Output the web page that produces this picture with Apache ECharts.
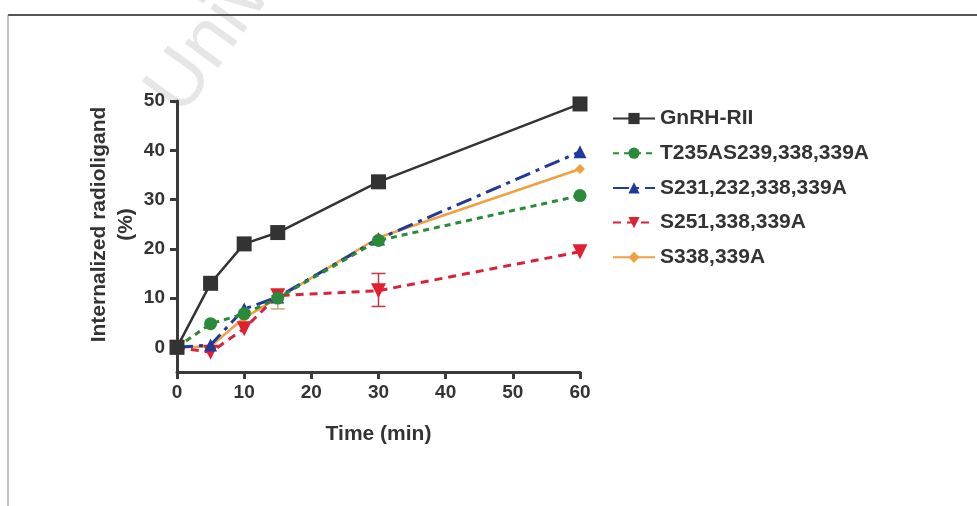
<!DOCTYPE html>
<html>
<head>
<meta charset="utf-8">
<script src="https://cdn.jsdelivr.net/npm/echarts@6/dist/echarts.min.js"></script>
<style>
  html, body { margin: 0; padding: 0; background: #fff; }
  #chart { width: 977px; height: 506px; }
</style>
</head>
<body>
<div id="chart"></div>
<script>
const times = [0, 5, 10, 15, 30, 60];
const names = ['GnRH-RII', 'T235AS239,338,339A', 'S231,232,338,339A', 'S251,338,339A', 'S338,339A'];

const gnrh = [0, 13, 21, 23.3, 33.6, 49.4];
const t235 = [0, 4.8, 6.8, 10, 21.7, 30.8];
const s231 = [0, 0.5, 7.8, 10.2, 22, 39.7];
const s251 = [0, -1, 3.8, 10.5, 11.5, 19.4];
const s338 = [0, 0.2, 6, 10, 22.3, 36.2];

// error bars: [time, low, high]
const s251Err = [[30, 8.3, 15]];
const s338Err = [[15, 7.8, 10.5]];

const yTicks = [0, 10, 20, 30, 40, 50];

const pair = (vals) => times.map((t, i) => [t, vals[i]]);

const errSeries = (data, color) => ({
  type: 'custom',
  silent: true,
  z: 1,
  renderItem(params, api) {
    const x = api.value(0);
    const lo = api.coord([x, api.value(1)]);
    const hi = api.coord([x, api.value(2)]);
    const cap = 7;
    const style = { stroke: color, lineWidth: 1.5 };
    return {
      type: 'group',
      children: [
        { type: 'line', shape: { x1: lo[0], y1: lo[1], x2: hi[0], y2: hi[1] }, style },
        { type: 'line', shape: { x1: lo[0] - cap, y1: lo[1], x2: lo[0] + cap, y2: lo[1] }, style },
        { type: 'line', shape: { x1: hi[0] - cap, y1: hi[1], x2: hi[0] + cap, y2: hi[1] }, style },
      ],
    };
  },
  data,
});

const chart = echarts.init(document.getElementById('chart'));

const axisColor = '#3a3a3a';
const font = 'Liberation Sans, Arial, sans-serif';

chart.setOption({
  animation: false,
  textStyle: { fontFamily: font },
  graphic: [
    { type: 'line', shape: { x1: 8, y1: 15, x2: 977, y2: 15 }, style: { stroke: '#555', lineWidth: 2 } },
    { type: 'line', shape: { x1: 8, y1: 15, x2: 8, y2: 506 }, style: { stroke: '#888', lineWidth: 1 } },
    {
      type: 'text', x: 196, y: 128, rotation: Math.PI * 0.3, silent: true, z: -1,
      style: {
        text: 'University', font: '78px ' + font,
        fill: '#e6e6e6',
        verticalAlign: 'bottom',
      },
    },
  ],
  grid: { left: 177, right: 397, top: 101, bottom: 134 },
  legend: {
    orient: 'vertical',
    left: 607,
    top: 103,
    itemWidth: 42,
    itemHeight: 14,
    itemGap: 13.7,
    textStyle: { fontSize: 21, fontWeight: 'bold', color: '#333', fontFamily: font, lineHeight: 20 },
    data: names,
  },
  xAxis: {
    type: 'value',
    min: 0,
    max: 60,
    interval: 10,
    name: 'Time (min)',
    nameLocation: 'middle',
    nameGap: 52,
    nameTextStyle: { fontSize: 21, fontWeight: 'bold', color: '#333' },
    axisLine: { onZero: false, lineStyle: { color: axisColor, width: 3 } },
    axisTick: { show: true, length: 7, lineStyle: { color: axisColor, width: 3 } },
    axisLabel: { fontSize: 19, fontWeight: 'bold', color: '#333', margin: 11 },
    splitLine: { show: false },
  },
  yAxis: {
    type: 'value',
    min: -5,
    max: 50,
    name: 'Internalized radioligand\n(%)',
    nameLocation: 'middle',
    nameGap: 35,
    nameTextStyle: { fontSize: 21, fontWeight: 'bold', color: '#333', lineHeight: 27, padding: [0, 0, 0, 24] },
    axisLine: { show: true, lineStyle: { color: axisColor, width: 3 } },
    axisTick: { show: true, length: 7, customValues: yTicks, lineStyle: { color: axisColor, width: 3 } },
    axisLabel: { fontSize: 19, fontWeight: 'bold', color: '#333', margin: 12, customValues: yTicks },
    splitLine: { show: false },
  },
  series: [
    errSeries(s251Err, '#c0393f'),
    errSeries(s338Err, '#c9a77a'),
    {
      name: names[4], type: 'line', data: pair(s338), z: 3,
      symbol: 'diamond', symbolSize: 10,
      lineStyle: { color: '#f0a040', width: 2.5 },
      itemStyle: { color: '#f0a040' },
    },
    {
      name: names[3], type: 'line', data: pair(s251), z: 3,
      symbol: 'triangle', symbolRotate: 180, symbolSize: 15,
      lineStyle: { color: '#d8223a', width: 3, type: [8, 6] },
      itemStyle: { color: '#e02030' },
    },
    {
      name: names[2], type: 'line', data: pair(s231), z: 3,
      symbol: 'triangle', symbolSize: 13,
      lineStyle: { color: '#1f3a9a', width: 3, type: [16, 6, 4, 6] },
      itemStyle: { color: '#1f3a9a' },
    },
    {
      name: names[1], type: 'line', data: pair(t235), z: 3,
      symbol: 'circle', symbolSize: 13,
      lineStyle: { color: '#2a8a3a', width: 3, type: [6, 5] },
      itemStyle: { color: '#2a8a3a' },
    },
    {
      name: names[0], type: 'line', data: pair(gnrh), z: 4,
      symbol: 'rect', symbolSize: 15,
      lineStyle: { color: '#333', width: 2.5 },
      itemStyle: { color: '#333' },
    },
  ],
});
</script>
</body>
</html>
